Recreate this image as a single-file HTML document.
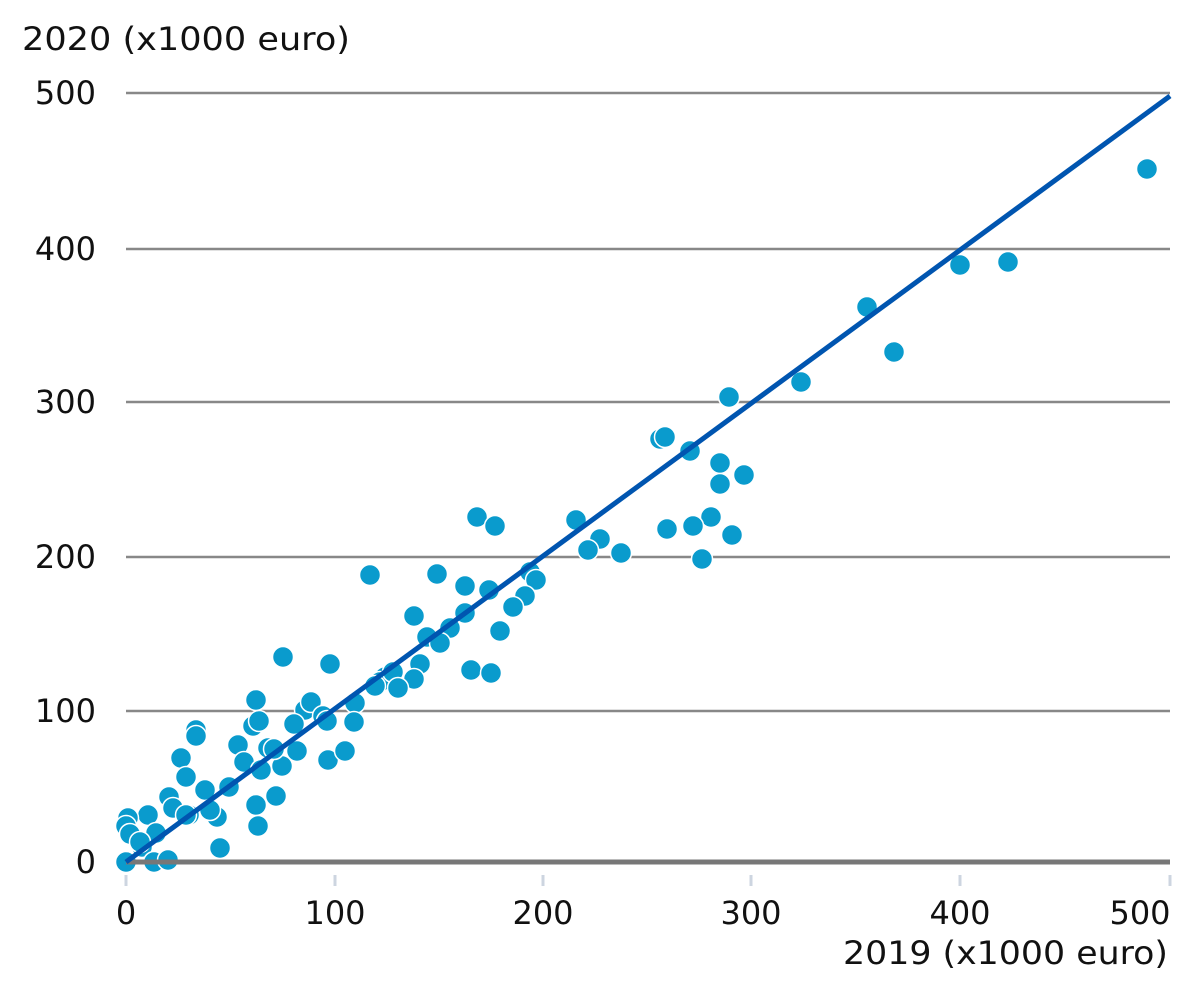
<!DOCTYPE html>
<html><head><meta charset="utf-8"><style>
html,body{margin:0;padding:0;background:#fff;}
svg text{font-family:"DejaVu Sans","Liberation Sans",sans-serif;fill:#111;}
circle{r:10.5px;}
</style></head><body>
<svg width="1200" height="988" viewBox="0 0 1200 988" xmlns="http://www.w3.org/2000/svg">
<text x="22" y="50" font-size="32" textLength="328" lengthAdjust="spacingAndGlyphs">2020 (x1000 euro)</text>
<g stroke="#888" stroke-width="2.5">
<line x1="126" y1="93" x2="1170" y2="93"/>
<line x1="126" y1="249" x2="1170" y2="249"/>
<line x1="126" y1="402" x2="1170" y2="402"/>
<line x1="126" y1="557" x2="1170" y2="557"/>
<line x1="126" y1="711" x2="1170" y2="711"/>
</g>
<g font-size="32" text-anchor="end">
<text x="96" y="104">500</text><text x="96" y="260">400</text><text x="96" y="413">300</text>
<text x="96" y="568">200</text><text x="96" y="722">100</text><text x="96" y="873">0</text>
</g>
<g stroke="#cdd5e0" stroke-width="3">
<line x1="126" y1="875" x2="126" y2="886"/><line x1="335" y1="875" x2="335" y2="886"/>
<line x1="543" y1="875" x2="543" y2="886"/><line x1="751" y1="875" x2="751" y2="886"/>
<line x1="960" y1="875" x2="960" y2="886"/><line x1="1170" y1="875" x2="1170" y2="886"/>
</g>
<g font-size="32" text-anchor="middle">
<text x="126" y="924">0</text><text x="335" y="924">100</text><text x="543" y="924">200</text>
<text x="751" y="924">300</text><text x="960" y="924">400</text><text x="1140" y="924">500</text>
</g>
<text x="843" y="964" font-size="32" textLength="325" lengthAdjust="spacingAndGlyphs">2019 (x1000 euro)</text>
<g fill="#0a9bcd" stroke="#fff" stroke-width="1.5">
<circle cx="1147" cy="169" r="10.5"/><circle cx="960" cy="265" r="10.5"/><circle cx="1008" cy="262" r="10.5"/><circle cx="867" cy="307" r="10.5"/><circle cx="894" cy="352" r="10.5"/><circle cx="801" cy="382" r="10.5"/><circle cx="729" cy="397" r="10.5"/><circle cx="660" cy="439" r="10.5"/><circle cx="665" cy="437" r="10.5"/><circle cx="690" cy="451" r="10.5"/><circle cx="720" cy="463" r="10.5"/><circle cx="720" cy="484" r="10.5"/><circle cx="744" cy="475" r="10.5"/><circle cx="711" cy="517" r="10.5"/><circle cx="693" cy="526" r="10.5"/><circle cx="667" cy="529" r="10.5"/><circle cx="732" cy="535" r="10.5"/><circle cx="702" cy="559" r="10.5"/><circle cx="576" cy="520" r="10.5"/><circle cx="600" cy="539" r="10.5"/><circle cx="588" cy="550" r="10.5"/><circle cx="621" cy="553" r="10.5"/><circle cx="477" cy="517" r="10.5"/><circle cx="495" cy="526" r="10.5"/><circle cx="437" cy="574" r="10.5"/><circle cx="465" cy="586" r="10.5"/><circle cx="489" cy="590" r="10.5"/><circle cx="530" cy="572" r="10.5"/><circle cx="536" cy="580" r="10.5"/><circle cx="525" cy="596" r="10.5"/><circle cx="513" cy="607" r="10.5"/><circle cx="465" cy="613" r="10.5"/><circle cx="450" cy="628" r="10.5"/><circle cx="500" cy="631" r="10.5"/><circle cx="471" cy="670" r="10.5"/><circle cx="491" cy="673" r="10.5"/><circle cx="414" cy="616" r="10.5"/><circle cx="427" cy="637" r="10.5"/><circle cx="440" cy="643" r="10.5"/><circle cx="420" cy="664" r="10.5"/><circle cx="414" cy="679" r="10.5"/><circle cx="370" cy="575" r="10.5"/><circle cx="330" cy="664" r="10.5"/><circle cx="283" cy="657" r="10.5"/><circle cx="256" cy="700" r="10.5"/><circle cx="253" cy="726" r="10.5"/><circle cx="259" cy="721" r="10.5"/><circle cx="305" cy="710" r="10.5"/><circle cx="311" cy="702" r="10.5"/><circle cx="294" cy="724" r="10.5"/><circle cx="323" cy="716" r="10.5"/><circle cx="327" cy="721" r="10.5"/><circle cx="355" cy="703" r="10.5"/><circle cx="354" cy="722" r="10.5"/><circle cx="385" cy="677" r="10.5"/><circle cx="380" cy="682" r="10.5"/><circle cx="393" cy="672" r="10.5"/><circle cx="398" cy="688" r="10.5"/><circle cx="375" cy="686" r="10.5"/><circle cx="328" cy="760" r="10.5"/><circle cx="345" cy="751" r="10.5"/><circle cx="297" cy="751" r="10.5"/><circle cx="282" cy="766" r="10.5"/><circle cx="276" cy="796" r="10.5"/><circle cx="238" cy="745" r="10.5"/><circle cx="244" cy="762" r="10.5"/><circle cx="261" cy="770" r="10.5"/><circle cx="268" cy="748" r="10.5"/><circle cx="274" cy="749" r="10.5"/><circle cx="229" cy="787" r="10.5"/><circle cx="256" cy="805" r="10.5"/><circle cx="258" cy="826" r="10.5"/><circle cx="196" cy="730" r="10.5"/><circle cx="196" cy="736" r="10.5"/><circle cx="181" cy="758" r="10.5"/><circle cx="186" cy="777" r="10.5"/><circle cx="205" cy="790" r="10.5"/><circle cx="169" cy="797" r="10.5"/><circle cx="173" cy="808" r="10.5"/><circle cx="189" cy="815" r="10.5"/><circle cx="217" cy="817" r="10.5"/><circle cx="220" cy="848" r="10.5"/><circle cx="148" cy="815" r="10.5"/><circle cx="156" cy="833" r="10.5"/><circle cx="128" cy="818" r="10.5"/><circle cx="126" cy="826" r="10.5"/><circle cx="130" cy="834" r="10.5"/><circle cx="142" cy="847" r="10.5"/><circle cx="126" cy="862" r="10.5"/><circle cx="154" cy="862" r="10.5"/><circle cx="168" cy="860" r="10.5"/><circle cx="140" cy="842" r="10.5"/><circle cx="186" cy="815" r="10.5"/><circle cx="210" cy="810" r="10.5"/>
</g>
<line x1="126" y1="862" x2="1170" y2="862" stroke="#777" stroke-width="5"/>
<line x1="126" y1="862" x2="1170" y2="96" stroke="#0055b0" stroke-width="5"/>
</svg>
</body></html>
